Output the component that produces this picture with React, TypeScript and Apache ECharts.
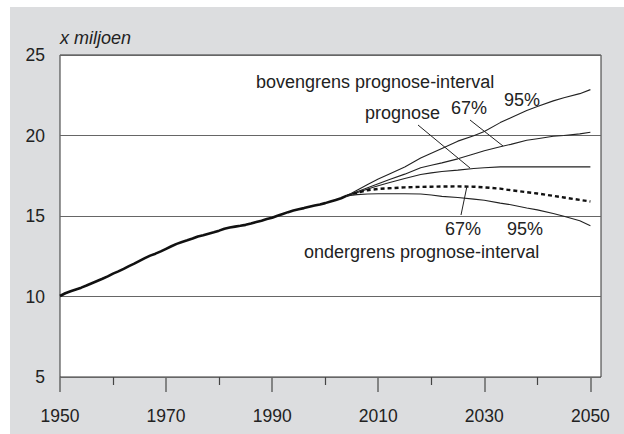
import React, { useEffect, useRef } from "react";
import * as echarts from "echarts";

const histYears = Array.from({ length: 55 }, (_, i) => 1950 + i);
const histValues = [
  10.03, 10.2, 10.33, 10.44, 10.55, 10.68, 10.82, 10.96, 11.1, 11.25,
  11.42, 11.56, 11.72, 11.89, 12.04, 12.21, 12.38, 12.54, 12.66, 12.8,
  12.96, 13.12, 13.27, 13.39, 13.49, 13.6, 13.73, 13.81, 13.9, 13.99,
  14.09, 14.21, 14.29, 14.34, 14.39, 14.45, 14.53, 14.62, 14.71, 14.81,
  14.89, 15.01, 15.13, 15.24, 15.34, 15.42, 15.49, 15.57, 15.65, 15.72,
  15.8, 15.9, 16.0, 16.1, 16.25,
];

const fcYears = [2004, 2006, 2008, 2010, 2012, 2015, 2018, 2020, 2022, 2025, 2028, 2030, 2033, 2035, 2038, 2040, 2043, 2045, 2048, 2050];
const upper95 = [16.25, 16.6, 16.95, 17.3, 17.6, 18.05, 18.6, 18.9, 19.2, 19.65, 19.98, 20.25, 20.8, 21.1, 21.55, 21.8, 22.15, 22.35, 22.6, 22.85];
const upper67 = [16.25, 16.5, 16.75, 17.0, 17.25, 17.6, 18.0, 18.15, 18.3, 18.55, 18.85, 19.05, 19.3, 19.45, 19.7, 19.8, 19.95, 20.0, 20.1, 20.2];
const prognose = [16.25, 16.45, 16.68, 16.88, 17.06, 17.33, 17.58, 17.68, 17.76, 17.85, 17.95, 18.0, 18.05, 18.05, 18.05, 18.05, 18.05, 18.05, 18.05, 18.05];
const lower67 = [16.25, 16.45, 16.6, 16.68, 16.72, 16.78, 16.81, 16.82, 16.83, 16.84, 16.82, 16.78, 16.7, 16.6, 16.48, 16.4, 16.25, 16.15, 16.0, 15.9];
const lower95 = [16.25, 16.33, 16.37, 16.38, 16.38, 16.38, 16.37, 16.3, 16.22, 16.15, 16.05, 15.98, 15.8, 15.7, 15.5, 15.38, 15.15, 14.98, 14.7, 14.4];

const majorTicks = [1950, 1970, 1990, 2010, 2030, 2050];
const minorTicks = [1960, 1980, 2000, 2020, 2040];

const FONT = "'Liberation Sans', Arial, sans-serif";
const TXT = "#222";

export default function App() {
  const ref = useRef<HTMLDivElement>(null);
  useEffect(() => {
    document.body.style.margin = "0";
    const chart = echarts.init(ref.current!, null, { renderer: "svg" });
    const pair = (xs: number[], ys: number[]) => xs.map((x, i) => [x, ys[i]]);
    const thin = { color: "#222", width: 1.1 };
    const text = (t: string, x: number, y: number, extra: any = {}) => ({
      type: "text",
      x,
      y,
      z: 10,
      style: { text: t, fill: TXT, font: `18px ${FONT}`, verticalAlign: "middle", ...extra },
    });
    const line = (x1: number, y1: number, x2: number, y2: number) => ({
      type: "line",
      z: 10,
      shape: { x1, y1, x2, y2 },
      style: { stroke: "#222", lineWidth: 1 },
    });
    chart.setOption({
      animation: false,
      grid: {
        left: 60,
        top: 55,
        right: 23,
        bottom: 57,
        show: true,
        backgroundColor: "#fff",
        borderColor: "#333",
        borderWidth: 1,
      },
      xAxis: [
        {
          type: "value",
          min: 1950,
          max: 2052,
          position: "bottom",
          axisLine: { show: false },
          splitLine: { show: false },
          axisTick: { show: true, customValues: majorTicks, length: 15, lineStyle: { color: "#666", width: 1.5 } },
          axisLabel: {
            customValues: majorTicks,
            margin: 30,
            color: TXT,
            fontSize: 17.5,
            fontFamily: FONT,
            formatter: (v: number) => String(v),
          },
        },
        {
          type: "value",
          min: 1950,
          max: 2052,
          position: "bottom",
          axisLine: { show: false },
          splitLine: { show: false },
          axisTick: { show: true, customValues: minorTicks, length: 8, lineStyle: { color: "#444", width: 1.2 } },
          axisLabel: { show: false },
        },
      ],
      yAxis: {
        type: "value",
        min: 5,
        max: 25,
        interval: 5,
        axisLine: { show: false },
        axisTick: { show: false },
        splitLine: { show: true, lineStyle: { color: "#666", width: 1 } },
        axisLabel: { margin: 15, color: TXT, fontSize: 17.5, fontFamily: FONT },
      },
      series: [
        { type: "line", data: pair(histYears, histValues), showSymbol: false, lineStyle: { color: "#111", width: 2.6 }, z: 5 },
        { type: "line", data: pair(fcYears, upper95), showSymbol: false, lineStyle: thin },
        { type: "line", data: pair(fcYears, upper67), showSymbol: false, lineStyle: thin },
        { type: "line", data: pair(fcYears, prognose), showSymbol: false, lineStyle: thin },
        { type: "line", data: pair(fcYears, lower67), showSymbol: false, lineStyle: { color: "#111", width: 2.4, type: [4, 3] } },
        { type: "line", data: pair(fcYears, lower95), showSymbol: false, lineStyle: thin },
      ],
      graphic: [
        { type: "rect", z: -100, shape: { x: 10, y: 7, width: 614, height: 427 }, style: { fill: "#dcdddf" } },
        text("x miljoen", 60, 38, { font: `italic 18px ${FONT}` }),
        text("bovengrens prognose-interval", 256, 82),
        text("95%", 504, 100),
        text("67%", 451, 108),
        text("prognose", 365, 113),
        text("67%", 445, 229),
        text("95%", 507, 229),
        text("ondergrens prognose-interval", 304, 252),
        line(418, 125, 470, 168),
        line(470, 120, 503, 146),
        line(467, 186, 461, 215),
      ],
    });
    return () => chart.dispose();
  }, []);
  return (
    <div style={{ width: 624, height: 434, background: "#fff" }}>
      <div ref={ref} style={{ width: 624, height: 434 }} />
    </div>
  );
}
